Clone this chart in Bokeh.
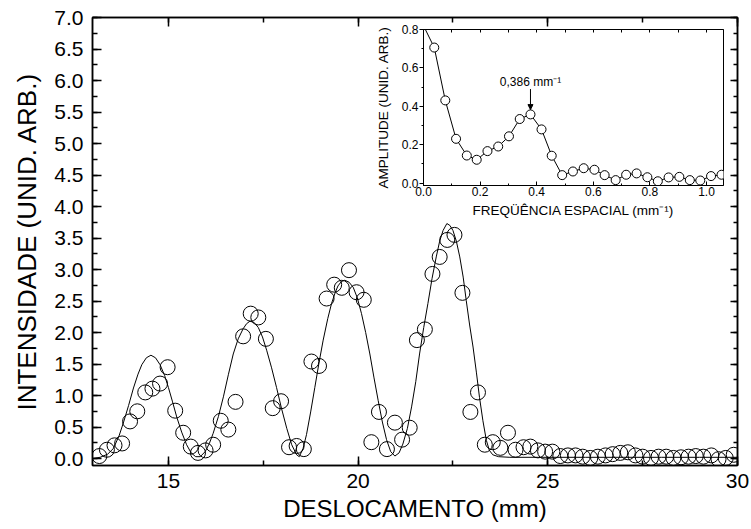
from bokeh.plotting import figure
from bokeh.layouts import column
from bokeh.models import (LinearAxis, SingleIntervalTicker, PrintfTickFormatter,
                          CustomJSTickFormatter, Arrow, NormalHead, Label)
from bokeh.embed import file_html
from bokeh.resources import INLINE

FONT = "Liberation Sans"

# ---------------- main data ----------------
desloc = [13.18, 13.38, 13.58, 13.78, 13.99, 14.18, 14.39, 14.58, 14.78, 14.98,
          15.18, 15.39, 15.59, 15.78, 15.98, 16.18, 16.38, 16.58, 16.77, 16.97,
          17.17, 17.37, 17.57, 17.75, 17.97, 18.18, 18.38, 18.57,
          18.77, 18.97, 19.17, 19.37, 19.57, 19.76, 19.96, 20.15, 20.35, 20.55,
          20.76, 20.97, 21.16, 21.36, 21.55, 21.76, 21.96, 22.15, 22.35, 22.54,
          22.75, 22.96, 23.16, 23.34, 23.55, 23.75, 23.95, 24.15, 24.36,
          24.54, 24.74, 24.93, 25.12, 25.33, 25.53, 25.73, 25.92, 26.12, 26.32,
          26.52, 26.71, 26.91, 27.11, 27.31, 27.50, 27.72, 27.92, 28.12, 28.31,
          28.51, 28.71, 28.90, 29.10, 29.31, 29.50, 29.69, 29.90]
intensidade = [0.04, 0.14, 0.21, 0.24, 0.59, 0.75, 1.05, 1.11, 1.19, 1.45,
               0.76, 0.41, 0.19, 0.09, 0.13, 0.22, 0.60, 0.46, 0.90, 1.94,
               2.30, 2.24, 1.90, 0.80, 0.91, 0.18, 0.20, 0.15,
               1.54, 1.47, 2.54, 2.76, 2.71, 2.99, 2.64, 2.52, 0.26, 0.74,
               0.15, 0.57, 0.30, 0.49, 1.88, 2.05, 2.93, 3.20, 3.47, 3.55,
               2.63, 0.74, 1.05, 0.22, 0.26, 0.17, 0.41, 0.14, 0.18,
               0.19, 0.13, 0.11, 0.11, 0.04, 0.05, 0.05, 0.03, 0.01, 0.03,
               0.05, 0.07, 0.09, 0.10, 0.05, 0.03, 0.01, 0.03, 0.03, 0.01,
               0.02, 0.03, 0.04, 0.03, 0.05, -0.01, 0.01, 0.06]

ajuste_x = [13.0, 13.2, 13.4, 13.55, 13.7, 13.82, 13.95, 14.08, 14.2, 14.3, 14.42,
            14.54, 14.66, 14.78, 14.9, 15.0, 15.11, 15.22, 15.35, 15.48, 15.6,
            15.72, 15.84, 15.97, 16.08, 16.18, 16.32, 16.45, 16.58, 16.71, 16.84,
            16.97, 17.06, 17.15, 17.26, 17.37, 17.48, 17.59, 17.72, 17.85, 17.98,
            18.12, 18.25, 18.38, 18.45, 18.55, 18.64, 18.75, 18.86, 18.97, 19.08,
            19.2, 19.3, 19.4, 19.47, 19.56, 19.65, 19.76, 19.87, 19.98, 20.09,
            20.2, 20.31, 20.42, 20.53, 20.64, 20.75, 20.86, 20.97, 21.08, 21.18,
            21.3, 21.41, 21.52, 21.62, 21.73, 21.84, 21.95, 22.06, 22.15, 22.24,
            22.34, 22.42, 22.5, 22.59, 22.68, 22.77, 22.85, 22.94, 23.03, 23.12,
            23.2, 23.29, 23.38, 23.46, 23.55, 23.7, 24.0, 25.0, 26.0, 27.0, 28.0,
            29.0, 30.0]
ajuste_y = [0.00, 0.02, 0.07, 0.16, 0.36, 0.58, 0.84, 1.12, 1.34, 1.49, 1.60,
            1.64, 1.60, 1.49, 1.32, 1.13, 0.90, 0.66, 0.42, 0.22, 0.09,
            0.03, 0.03, 0.11, 0.24, 0.40, 0.67, 0.98, 1.33, 1.66, 1.90,
            2.06, 2.14, 2.18, 2.16, 2.08, 1.93, 1.72, 1.44, 1.13, 0.80,
            0.48, 0.22, 0.06, 0.03, 0.16, 0.38, 0.74, 1.13, 1.52, 1.88,
            2.22, 2.46, 2.64, 2.74, 2.81, 2.83, 2.80, 2.72, 2.55, 2.30,
            2.00, 1.66, 1.28, 0.92, 0.58, 0.30, 0.11, 0.04, 0.09, 0.23,
            0.48, 0.82, 1.22, 1.66, 2.08, 2.46, 2.86, 3.20, 3.45, 3.62,
            3.73, 3.70, 3.62, 3.45, 3.20, 2.88, 2.51, 2.12, 1.77, 1.36,
            0.97, 0.60, 0.29, 0.13, 0.06, 0.03, 0.02, 0.02, 0.02, 0.02, 0.02,
            0.02, 0.02]

# ---------------- inset data ----------------
frequencia = [0.0, 0.038, 0.077, 0.115, 0.153, 0.188, 0.226, 0.264, 0.302, 0.340,
              0.378, 0.417, 0.453, 0.490, 0.528, 0.566, 0.604, 0.640, 0.679, 0.716,
              0.753, 0.791, 0.828, 0.866, 0.904, 0.941, 0.978, 1.016, 1.053]
amplitude = [0.82, 0.706, 0.431, 0.231, 0.144, 0.122, 0.167, 0.191, 0.244, 0.334,
             0.358, 0.280, 0.143, 0.042, 0.061, 0.078, 0.070, 0.042, 0.016, 0.044,
             0.051, 0.031, 0.010, 0.030, 0.033, 0.016, 0.014, 0.037, 0.044]
pico_indice = 10
pico_texto = "0,386 mm⁻¹"

blank = CustomJSTickFormatter(code="return ''")

# ---------------- main figure ----------------
p = figure(width=751, height=529, x_range=(13, 30), y_range=(-0.11, 7.0),
           output_backend="svg", toolbar_location=None,
           min_border_left=92, min_border_right=14, min_border_top=17,
           min_border_bottom=64, x_axis_label="DESLOCAMENTO (mm)",
           y_axis_label="INTENSIDADE (UNID. ARB.)")
p.grid.visible = False
p.outline_line_color = "black"
p.outline_line_width = 1.5
p.background_fill_color = "white"
p.border_fill_color = "white"

xt = SingleIntervalTicker(interval=5, num_minor_ticks=2)
yt = SingleIntervalTicker(interval=0.5, num_minor_ticks=2)

for ax in (p.xaxis[0], p.yaxis[0]):
    ax.major_tick_in = 9
    ax.major_tick_out = 0
    ax.minor_tick_in = 5
    ax.minor_tick_out = 0
    ax.axis_line_width = 1.5
    ax.major_tick_line_width = 1.5
    ax.minor_tick_line_width = 1.5
    ax.major_label_text_font = FONT
    ax.major_label_text_font_size = "21px"
    ax.axis_label_text_font = FONT
    ax.axis_label_text_font_style = "normal"
    ax.major_label_text_color = "black"
    ax.axis_label_text_color = "black"
p.xaxis[0].axis_label_text_font_size = "24px"
p.yaxis[0].axis_label_text_font_size = "26px"
p.xaxis[0].ticker = xt
p.yaxis[0].ticker = yt
p.yaxis[0].formatter = PrintfTickFormatter(format="%.1f")
p.xaxis[0].major_label_standoff = 8
p.xaxis[0].axis_label_standoff = 4
p.yaxis[0].major_label_standoff = 9
p.yaxis[0].axis_label_standoff = 9

top_ax = LinearAxis(ticker=xt, formatter=blank, major_tick_in=9, major_tick_out=0,
                    minor_tick_in=5, minor_tick_out=0, major_label_standoff=0,
                    axis_line_width=1.5, major_tick_line_width=1.5,
                    minor_tick_line_width=1.5)
right_ax = LinearAxis(ticker=yt, formatter=blank, major_tick_in=7, major_tick_out=0,
                      minor_tick_in=4, minor_tick_out=0, major_label_standoff=0,
                      axis_line_width=1.5, major_tick_line_width=1.5,
                      minor_tick_line_width=1.5)
p.add_layout(top_ax, "above")
p.add_layout(right_ax, "right")

p.line(ajuste_x, ajuste_y, line_color="black", line_width=1)
p.scatter(desloc, intensidade, marker="circle", size=15, fill_color=None,
          line_color="black", line_width=1)

# ---------------- inset figure ----------------
# (column aligns frame borders horizontally, so the inset uses the same
#  left/right borders as the main figure: 92 + 300 + 14)
pi = figure(width=406, height=210, x_range=(0, 1.06), y_range=(-0.012, 0.8),
            output_backend="svg", toolbar_location=None,
            min_border_left=92, min_border_right=14, min_border_top=7,
            min_border_bottom=47,
            x_axis_label="FREQÜÊNCIA ESPACIAL (mm⁻¹)",
            y_axis_label="AMPLITUDE (UNID. ARB.)")
pi.grid.visible = False
pi.outline_line_color = "black"
pi.outline_line_width = 1
pi.background_fill_color = None
pi.border_fill_color = None

ixt = SingleIntervalTicker(interval=0.2, num_minor_ticks=2)
iyt = SingleIntervalTicker(interval=0.2, num_minor_ticks=2)
for ax in (pi.xaxis[0], pi.yaxis[0]):
    ax.formatter = PrintfTickFormatter(format="%.1f")
    ax.major_label_text_font = FONT
    ax.major_label_text_font_size = "12px"
    ax.axis_label_text_font = FONT
    ax.axis_label_text_font_size = "13.5px"
    ax.axis_label_text_font_style = "normal"
    ax.major_label_text_color = "black"
    ax.axis_label_text_color = "black"
pi.xaxis[0].ticker = ixt
pi.yaxis[0].ticker = iyt
pi.xaxis[0].major_tick_in = 4
pi.xaxis[0].major_tick_out = 0
pi.xaxis[0].minor_tick_in = 2
pi.xaxis[0].minor_tick_out = 0
pi.xaxis[0].major_label_standoff = 1
pi.xaxis[0].axis_label_standoff = 4
pi.yaxis[0].major_tick_in = 0
pi.yaxis[0].major_tick_out = 4
pi.yaxis[0].minor_tick_in = 0
pi.yaxis[0].minor_tick_out = 2
pi.yaxis[0].major_label_standoff = 1
pi.yaxis[0].axis_label_standoff = 8

itop = LinearAxis(ticker=SingleIntervalTicker(interval=0.1, num_minor_ticks=0),
                  formatter=blank, major_tick_in=3, major_tick_out=0,
                  minor_tick_in=0, minor_tick_out=0, major_label_standoff=0)
pi.add_layout(itop, "above")

pi.line(frequencia, amplitude, line_color="black", line_width=1)
pi.scatter(frequencia[1:], amplitude[1:], marker="circle", size=9,
           fill_color="white", line_color="black", line_width=1)

pk_x = frequencia[pico_indice]
pk_y = amplitude[pico_indice]
pi.add_layout(Arrow(end=NormalHead(size=5, fill_color="black", line_color="black"),
                    x_start=pk_x, y_start=0.49, x_end=pk_x, y_end=pk_y + 0.025,
                    line_color="black", line_width=1))
pi.add_layout(Label(x=pk_x, y=0.49, text=pico_texto, text_align="center",
                    text_baseline="bottom", text_font=FONT, text_font_size="12px",
                    text_color="black"))

pi.styles = {"position": "absolute", "left": "331px", "top": "22px"}

layout = column(p, pi)
open("out.html", "w").write(file_html(layout, INLINE))
